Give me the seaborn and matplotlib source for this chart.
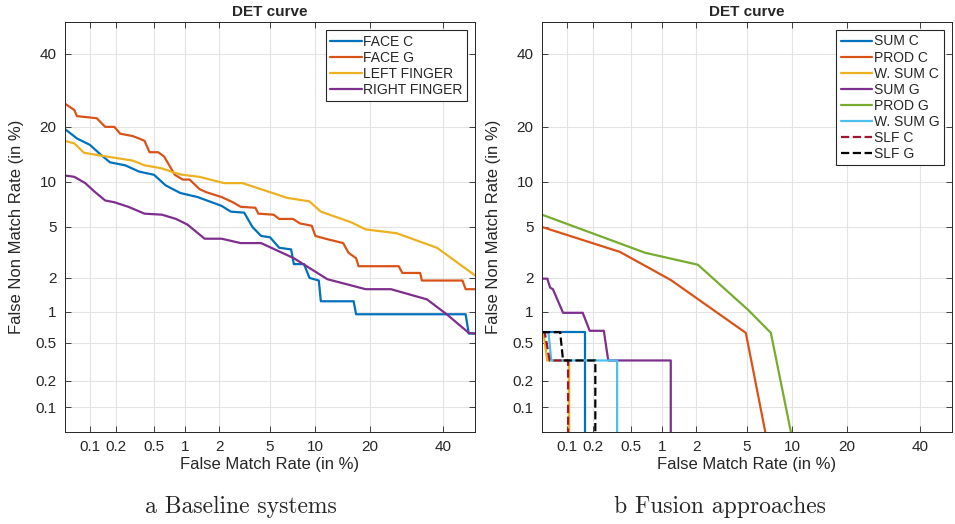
import math
import matplotlib
matplotlib.use("Agg")
import matplotlib.pyplot as plt
import numpy as np
import pandas as pd
import seaborn as sns

# ---- data (rates in %) ----
face_c_fmr = [0.05, 0.07, 0.1, 0.13, 0.17, 0.25, 0.35, 0.5, 0.65, 0.9, 1.3, 2.1, 2.5, 3.2, 3.7, 4.3,
              5.0, 5.8, 7.0, 7.3, 8.5, 9.2, 10.5, 10.8, 16.5, 17.0, 47.0, 48.0, 50.0]
face_c_fnmr = [19.5, 17.5, 16.2, 14.5, 13.0, 12.5, 11.5, 11.0, 9.5, 8.5, 8.0, 7.0, 6.4, 6.3, 5.0, 4.3,
               4.2, 3.5, 3.4, 2.6, 2.6, 2.0, 1.9, 1.25, 1.25, 0.95, 0.95, 0.62, 0.62]

face_g_fmr = [0.05, 0.065, 0.07, 0.12, 0.15, 0.19, 0.22, 0.3, 0.35, 0.4, 0.45, 0.55, 0.63, 0.8, 0.95,
              1.1, 1.35, 1.55, 2.1, 2.6, 3.0, 3.9, 4.1, 5.3, 5.8, 7.2, 8.0, 9.5, 10.0, 11.5, 14.5,
              15.5, 17.0, 17.5, 27.0, 28.0, 33.0, 33.5, 46.0, 47.0, 50.0]
face_g_fnmr = [25.6, 24.0, 22.5, 22.0, 20.0, 20.0, 18.5, 18.0, 17.5, 17.0, 14.8, 14.8, 14.0, 11.0, 10.3,
               10.3, 9.0, 8.6, 8.0, 7.4, 6.9, 6.8, 6.2, 6.1, 5.7, 5.7, 5.3, 5.1, 4.3, 4.1, 3.8,
               3.2, 2.9, 2.5, 2.5, 2.2, 2.2, 1.9, 1.9, 1.6, 1.6]

left_finger_fmr = [0.05, 0.065, 0.085, 0.12, 0.3, 0.4, 0.6, 0.8, 0.95, 1.35, 2.2, 3.1, 5.0, 6.6, 9.2,
                   10.8, 16.0, 19.0, 26.5, 38.0, 50.0]
left_finger_fnmr = [17.0, 16.5, 14.7, 14.3, 13.3, 12.5, 12.0, 11.3, 11.0, 10.7, 9.8, 9.8, 8.6, 7.9, 7.5,
                    6.4, 5.4, 4.8, 4.5, 3.5, 2.1]

right_finger_fmr = [0.05, 0.065, 0.088, 0.115, 0.15, 0.19, 0.27, 0.4, 0.6, 0.82, 1.05, 1.5, 2.1, 3.0,
                    4.3, 7.3, 11.8, 19.0, 25.0, 35.0, 41.0, 48.0, 50.0]
right_finger_fnmr = [10.9, 10.7, 9.8, 8.6, 7.6, 7.4, 6.9, 6.2, 6.1, 5.7, 5.2, 4.1, 4.1, 3.8,
                     3.8, 2.9, 1.95, 1.6, 1.6, 1.3, 0.95, 0.63, 0.62]

sum_c_fmr = [0.05, 0.16, 0.16]
sum_c_fnmr = [0.64, 0.64, 0.05]
prod_c_fmr = [0.05, 0.385, 1.2, 4.9, 6.7]
prod_c_fnmr = [5.0, 3.25, 1.92, 0.63, 0.05]
wsum_c_fmr = [0.05, 0.052, 0.058, 0.106, 0.106]
wsum_c_fnmr = [0.64, 0.64, 0.33, 0.33, 0.05]
sum_g_fmr = [0.05, 0.058, 0.063, 0.068, 0.09, 0.152, 0.182, 0.26, 0.29, 1.2, 1.2]
sum_g_fnmr = [1.97, 1.97, 1.65, 1.6, 0.98, 0.98, 0.66, 0.66, 0.33, 0.33, 0.05]
prod_g_fmr = [0.05, 0.69, 2.07, 5.1, 7.3, 9.8]
prod_g_fnmr = [6.1, 3.2, 2.57, 1.04, 0.63, 0.05]
wsum_g_fmr = [0.05, 0.06, 0.065, 0.36, 0.36]
wsum_g_fnmr = [0.64, 0.64, 0.33, 0.33, 0.05]
slf_c_fmr = [0.05, 0.054, 0.062, 0.103, 0.103]
slf_c_fnmr = [0.64, 0.64, 0.33, 0.33, 0.05]
slf_g_fmr = [0.05, 0.083, 0.09, 0.21, 0.21]
slf_g_fnmr = [0.64, 0.64, 0.33, 0.33, 0.05]

ticks = [0.1, 0.2, 0.5, 1, 2, 5, 10, 20, 40]
tick_labels = ["0.1", "0.2", "0.5", "1", "2", "5", "10", "20", "40"]

# ---- normal deviate scale ----
A = [-3.969683028665376e+01, 2.209460984245205e+02, -2.759285104469687e+02,
     1.383577518672690e+02, -3.066479806614716e+01, 2.506628277459239e+00]
B = [-5.447609879822406e+01, 1.615858368580409e+02, -1.556989798598866e+02,
     6.680131188771972e+01, -1.328068155288572e+01]
C = [-7.784894002430293e-03, -3.223964580411365e-01, -2.400758277161838e+00,
     -2.549732539343734e+00, 4.374664141464968e+00, 2.938163982698783e+00]
D = [7.784695709041462e-03, 3.224671290700398e-01, 2.445134137142996e+00,
     3.754408661907416e+00]
P_LOW = 0.02425


def _tail(q):
    num = ((((C[0] * q + C[1]) * q + C[2]) * q + C[3]) * q + C[4]) * q + C[5]
    den = (((D[0] * q + D[1]) * q + D[2]) * q + D[3]) * q + 1
    return num / den


def ppf(p):
    p = np.atleast_1d(np.asarray(p, dtype=float))
    p = np.clip(np.nan_to_num(p, nan=0.5), 1e-12, 1 - 1e-12)
    out = np.empty_like(p)
    lo = p < P_LOW
    hi = p > 1 - P_LOW
    mid = ~(lo | hi)
    out[lo] = _tail(np.sqrt(-2 * np.log(p[lo])))
    out[hi] = -_tail(np.sqrt(-2 * np.log(1 - p[hi])))
    q = p[mid] - 0.5
    r = q * q
    num = (((((A[0] * r + A[1]) * r + A[2]) * r + A[3]) * r + A[4]) * r + A[5]) * q
    den = ((((B[0] * r + B[1]) * r + B[2]) * r + B[3]) * r + B[4]) * r + 1
    out[mid] = num / den
    return out


_erf = np.vectorize(math.erf)


def forward(x):
    return ppf(np.asarray(x, dtype=float) / 100.0)


def inverse(u):
    u = np.atleast_1d(np.asarray(u, dtype=float))
    return 50.0 * (1 + _erf(u / math.sqrt(2)))


# ---- style ----
sns.set_theme(style="ticks")
plt.rcParams["font.family"] = ["Liberation Sans", "DejaVu Sans"]
plt.rcParams["xtick.direction"] = "in"
plt.rcParams["ytick.direction"] = "in"

BLUE, ORANGE, YELLOW = "#0072BD", "#D95319", "#EDB120"
PURPLE, GREEN, CYAN, RED = "#7E2F8E", "#77AC30", "#4DBEEE", "#A2142F"

fig = plt.figure(figsize=(9.55, 5.24), dpi=100)
ax1 = fig.add_axes([65 / 955, 92 / 524, 410 / 955, 410 / 524])
ax2 = fig.add_axes([542 / 955, 92 / 524, 410 / 955, 410 / 524])

left_series = [
    ("FACE C", face_c_fmr, face_c_fnmr, BLUE, "-"),
    ("FACE G", face_g_fmr, face_g_fnmr, ORANGE, "-"),
    ("LEFT FINGER", left_finger_fmr, left_finger_fnmr, YELLOW, "-"),
    ("RIGHT FINGER", right_finger_fmr, right_finger_fnmr, PURPLE, "-"),
]
right_series = [
    ("SUM C", sum_c_fmr, sum_c_fnmr, BLUE, "-"),
    ("PROD C", prod_c_fmr, prod_c_fnmr, ORANGE, "-"),
    ("W. SUM C", wsum_c_fmr, wsum_c_fnmr, YELLOW, "-"),
    ("SUM G", sum_g_fmr, sum_g_fnmr, PURPLE, "-"),
    ("PROD G", prod_g_fmr, prod_g_fnmr, GREEN, "-"),
    ("W. SUM G", wsum_g_fmr, wsum_g_fnmr, CYAN, "-"),
    ("SLF C", slf_c_fmr, slf_c_fnmr, RED, "--"),
    ("SLF G", slf_g_fmr, slf_g_fnmr, "black", "--"),
]

for ax, series in [(ax1, left_series), (ax2, right_series)]:
    for name, xs, ys, col, ls in series:
        df = pd.DataFrame({"fmr": xs, "fnmr": ys})
        sns.lineplot(data=df, x="fmr", y="fnmr", sort=False, estimator=None,
                     color=col, linestyle=ls, linewidth=1.6, label=name, ax=ax)
    ax.set_xscale("function", functions=(forward, inverse))
    ax.set_yscale("function", functions=(forward, inverse))
    ax.set_xlim(0.05, 50)
    ax.set_ylim(0.05, 50)
    ax.set_xticks(ticks)
    ax.set_xticklabels(tick_labels)
    ax.set_yticks(ticks)
    ax.set_yticklabels(tick_labels)
    ax.minorticks_off()
    ax.tick_params(axis="both", labelsize=11, colors="#262626", length=4, width=0.6,
                   top=True, right=True, pad=6)
    ax.grid(True, color="#e3e3e3", linewidth=0.8)
    for sp in ax.spines.values():
        sp.set_visible(True)
        sp.set_color("#262626")
        sp.set_linewidth(0.7)
    ax.set_title("DET curve", fontsize=11, fontweight="bold", pad=4)
    ax.set_xlabel("False Match Rate (in %)", fontsize=12, color="#262626", labelpad=2)
    ax.set_ylabel("False Non Match Rate (in %)", fontsize=12, color="#262626", labelpad=8)
    leg = ax.legend(loc="upper right", fontsize=10, handlelength=2.3, handletextpad=0.1,
                    labelspacing=0.15, borderpad=0.3, borderaxespad=0.6, fancybox=False,
                    framealpha=1, edgecolor="#262626")
    leg.get_frame().set_linewidth(0.8)

fig.text(241 / 955, 1 - 507 / 524, "a Baseline systems", family="cmr10", fontsize=17,
         ha="center", va="center")
fig.text(720 / 955, 1 - 507 / 524, "b Fusion approaches", family="cmr10", fontsize=17,
         ha="center", va="center")

fig.savefig("out.png", dpi=100)
